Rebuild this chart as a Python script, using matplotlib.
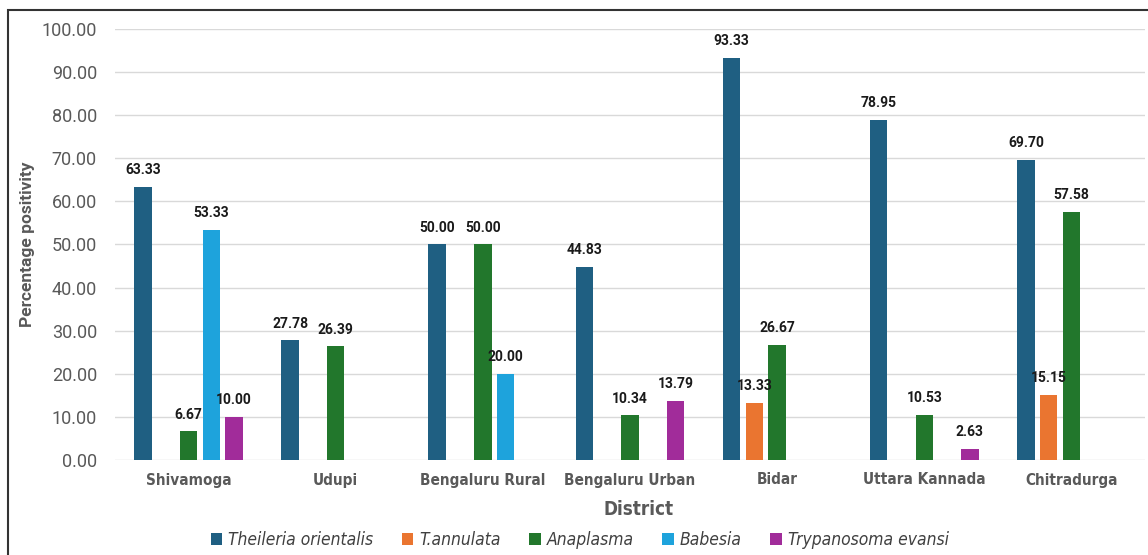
import os
import numpy as np
import matplotlib
matplotlib.use("Agg")
import matplotlib.pyplot as plt
from matplotlib import font_manager as fm
from matplotlib.patches import Rectangle, Patch

districts = ["Shivamoga", "Udupi", "Bengaluru Rural", "Bengaluru Urban",
             "Bidar", "Uttara Kannada", "Chitradurga"]
series = ["Theileria orientalis", "T.annulata", "Anaplasma", "Babesia",
          "Trypanosoma evansi"]
theileria = [63.33, 27.78, 50.00, 44.83, 93.33, 78.95, 69.70]
annulata = [0, 0, 0, 0, 13.33, 0, 15.15]
anaplasma = [6.67, 26.39, 50.00, 10.34, 26.67, 10.53, 57.58]
babesia = [53.33, 0, 20.00, 0, 0, 0, 0]
trypanosoma = [10.00, 0, 0, 13.79, 0, 2.63, 0]
values = [theileria, annulata, anaplasma, babesia, trypanosoma]
colors = ["#1f5f82", "#ea7530", "#22772c", "#1ea3dc", "#a12c9a"]
yticks = np.arange(0, 101, 10)

plt.rcParams["font.family"] = ["Roboto", "DejaVu Sans"]


def narrow_props(size, bold=False, italic=False):
    # a condensed face if one is installed, else a smaller regular one
    for f in fm.fontManager.ttflist:
        base = os.path.basename(f.fname).lower()
        if not ("narrow" in base or "condensed" in base or f.stretch == "condensed"):
            continue
        w = f.weight if isinstance(f.weight, int) else (700 if "bold" in str(f.weight) else 400)
        if (w >= 600) != bold:
            continue
        if (f.style in ("italic", "oblique")) != italic:
            continue
        return fm.FontProperties(fname=f.fname, size=size)
    return fm.FontProperties(family=["Roboto", "DejaVu Sans"], size=size * 0.82,
                             weight="bold" if bold else "normal",
                             style="italic" if italic else "normal")


fig = plt.figure(figsize=(11.48, 5.55), dpi=100)
ax = fig.add_axes([115 / 1148, 1 - 460 / 555, 1030 / 1148, 431 / 555])

x = np.arange(len(districts))
step = 0.155
width = 0.119
for i, (vals, col) in enumerate(zip(values, colors)):
    for xi, v in zip(x, vals):
        if v == 0:
            continue
        pos = xi + (i - 2) * step
        ax.bar(pos, v, width=width, color=col, zorder=3)
        ax.annotate(f"{v:.2f}", (pos, v), xytext=(0, 7), textcoords="offset points",
                    ha="center", va="bottom", fontsize=10, fontweight="bold",
                    color="#1a1a1a", zorder=4)

ax.set_xlim(-0.5, len(districts) - 0.5)
ax.set_ylim(0, 100)
ax.set_yticks(yticks)
ax.set_yticklabels([f"{t:.2f}" for t in yticks], fontsize=13, color="#595959")
ax.set_xticks(x)
ax.set_xticklabels(districts, fontproperties=narrow_props(11, bold=True),
                   color="#595959")
ax.tick_params(axis="both", length=0)
ax.tick_params(axis="y", pad=13)
ax.tick_params(axis="x", pad=9)
ax.grid(axis="y", color="#d9d9d9", linewidth=1, zorder=0)
for s in ax.spines.values():
    s.set_visible(False)

ax.set_ylabel("Percentage positivity", fontsize=12.5, fontweight="bold",
              color="#595959", va="center")
ax.yaxis.set_label_coords(-0.0854, 0.5)
ax.set_xlabel("District", fontproperties=narrow_props(13.5, bold=True),
              color="#595959")
ax.xaxis.set_label_coords(0.508, -0.092)

handles = [Patch(facecolor=c) for c in colors]
fig.legend(handles, series, loc="center", bbox_to_anchor=(0.505, 0.027), ncol=5,
           frameon=False, handlelength=0.65, handleheight=0.65, handletextpad=0.35,
           columnspacing=1.65, prop=narrow_props(12.5, italic=True),
           labelcolor="#404040")

fig.patches.append(Rectangle((8 / 1148, -0.1), 1.2, 1 - 10 / 555 + 0.1,
                             transform=fig.transFigure, fill=False,
                             edgecolor="#333333", linewidth=1.5))

fig.savefig("out.png", dpi=100)
